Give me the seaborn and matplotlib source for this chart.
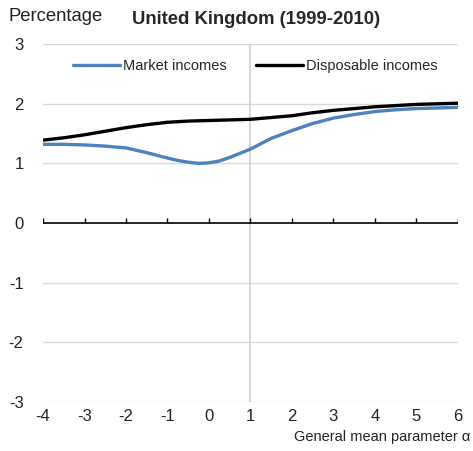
import numpy as np
import pandas as pd
import matplotlib
matplotlib.use("Agg")
import matplotlib.pyplot as plt
import seaborn as sns

alpha_market = [-4, -3.5, -3, -2.5, -2, -1.5, -1, -0.75, -0.5, -0.25, 0, 0.25, 0.5, 0.75, 1,
                1.25, 1.5, 2, 2.5, 3, 3.5, 4, 4.5, 5, 5.5, 6]
market = [1.32, 1.32, 1.31, 1.29, 1.26, 1.18, 1.09, 1.05, 1.02, 1.00, 1.01, 1.04, 1.10, 1.17, 1.24,
          1.33, 1.42, 1.55, 1.67, 1.76, 1.82, 1.87, 1.90, 1.92, 1.93, 1.94]
alpha_disp = [-4, -3.5, -3, -2.5, -2, -1.5, -1, -0.5, 0, 0.5, 1, 1.5, 2, 2.5, 3, 3.5, 4, 4.5, 5, 5.5, 6]
disposable = [1.39, 1.43, 1.48, 1.54, 1.60, 1.65, 1.69, 1.71, 1.72, 1.73, 1.74, 1.77, 1.80, 1.85, 1.89,
              1.92, 1.95, 1.97, 1.99, 2.00, 2.01]
series_names = ["Market incomes", "Disposable incomes"]
series_colors = ["#4f81bd", "#000000"]
xticks = [-4, -3, -2, -1, 0, 1, 2, 3, 4, 5, 6]
yticks = [-3, -2, -1, 0, 1, 2, 3]

df = pd.DataFrame({"alpha": alpha_market + alpha_disp,
                   "value": market + disposable,
                   "series": [series_names[0]] * len(alpha_market) + [series_names[1]] * len(alpha_disp)})

sns.set_style("white")
plt.rcParams["font.family"] = ["Liberation Sans", "DejaVu Sans"]

fig = plt.figure(figsize=(4.73, 4.51), dpi=100)
ax = fig.add_axes([0.091, 0.109, 0.877, 0.793])

for y in yticks:
    if y != 0:
        ax.axhline(y, color="#d9d9d9", lw=1, zorder=0)
ax.axvline(1, color="#d0d0d0", lw=1.2, zorder=0)
ax.axhline(0, color="black", lw=1.2, zorder=2)
ax.vlines(xticks, 0, 0.08, color="black", lw=1, zorder=2)

sns.lineplot(data=df, x="alpha", y="value", hue="series", palette=series_colors,
             hue_order=series_names, ax=ax, lw=2.4, legend=True, zorder=3)
for ln in ax.lines:
    ln.set_solid_joinstyle("round")

ax.set_xlim(-4, 6)
ax.set_ylim(-3, 3)
ax.set_xticks(xticks)
ax.set_yticks(yticks)
ax.set_xticklabels([str(t) for t in xticks], fontsize=12, color="#222222")
ax.set_yticklabels([str(t) for t in yticks], fontsize=12, color="#222222")
ax.tick_params(axis="both", length=0, pad=5)
ax.tick_params(axis="y", pad=14)
for s in ax.spines.values():
    s.set_visible(False)
ax.set_xlabel("")
ax.set_ylabel("")

leg = ax.legend(loc="upper center", bbox_to_anchor=(0.512, 0.995), ncol=2, frameon=False,
                fontsize=10.5, handlelength=3.2, handletextpad=0.2, columnspacing=2.05)

fig.text(0.019, 0.963, "Percentage", fontsize=13.3, color="#222222", va="center")
fig.text(0.279, 0.956, "United Kingdom (1999-2010)", fontsize=13.3, fontweight="bold", va="center")
fig.text(0.995, 0.032, "General mean parameter α", fontsize=10.5, ha="right", va="center", color="#222222")

fig.savefig("out.png", dpi=100)
